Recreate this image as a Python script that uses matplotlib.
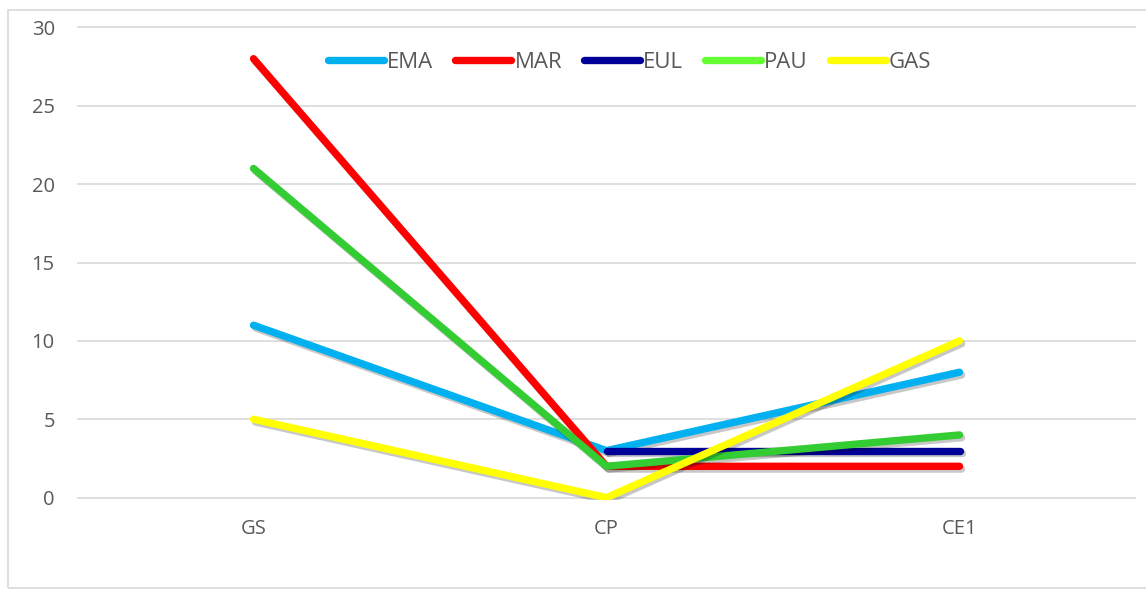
import numpy as np
import matplotlib.pyplot as plt
import matplotlib.patheffects as pe
from matplotlib.lines import Line2D
from matplotlib.patches import Rectangle

plt.rcParams['font.family'] = ['Open Sans', 'DejaVu Sans']

# Data
categories = ['GS', 'CP', 'CE1']
series_names = ['EMA', 'MAR', 'EUL', 'PAU', 'GAS']
ema = [11, 3, 8]
mar = [28, 2, 2]
eul = [np.nan, 3, 3]
pau = [21, 2, 4]
gas = [5, 0, 10]

line_colors = ['#00B0F0', '#FF0000', '#000099', '#33CC33', '#FFFF00']
legend_colors = ['#00B0F0', '#FF0000', '#000099', '#66FF33', '#FFFF00']

fig = plt.figure(figsize=(11.46, 5.9), dpi=100)
ax = fig.add_axes([77 / 1146, 90 / 590, 1059 / 1146, 475 / 590])

# outer chart border (right edge runs off the image)
fig.patches.append(Rectangle((8 / 1146, 2 / 590), 1200 / 1146, 578 / 590,
                             transform=fig.transFigure, fill=False,
                             edgecolor='#D9D9D9', linewidth=1.2))

x = np.arange(len(categories))
shadow = [pe.SimpleLineShadow(offset=(1.5, -2), shadow_color='black', alpha=0.22), pe.Normal()]
for vals, col in zip([ema, mar, eul, pau, gas], line_colors):
    ax.plot(x, vals, color=col, linewidth=5.3, solid_capstyle='round',
            solid_joinstyle='round', path_effects=shadow)

ax.set_xlim(-0.5, 2.5)
ax.set_yticks(range(0, 31, 5))
ax.set_xticks(x)
ax.set_xticklabels(categories)
ax.yaxis.grid(True, color='#D9D9D9', linewidth=1.2)
ax.set_axisbelow(True)
for s in ax.spines.values():
    s.set_visible(False)
ax.tick_params(length=0, labelsize=14.5, colors='#595959')
ax.tick_params(axis='y', pad=16)
ax.tick_params(axis='x', pad=14)
ax.set_ylim(-0.15, 30.15)

handles = [Line2D([0], [0], color=c, linewidth=5.3, solid_capstyle='round') for c in legend_colors]
ax.legend(handles, series_names, loc='center', bbox_to_anchor=(0.522, 0.922), ncol=5,
          frameon=False, fontsize=16, labelcolor='#595959', handlelength=2.5,
          handletextpad=0.15, columnspacing=1.0)

fig.savefig('out.png', dpi=100)
